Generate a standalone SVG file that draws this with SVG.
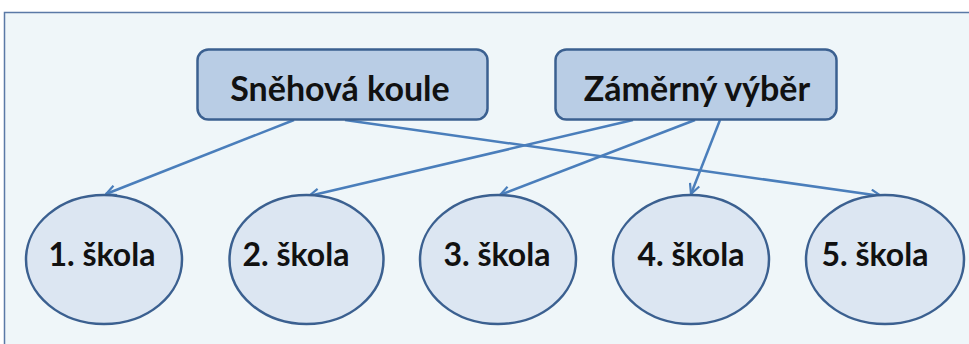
<svg xmlns="http://www.w3.org/2000/svg" width="969" height="344" viewBox="0 0 969 344">
<defs>
<style>
.box{fill:#b9cde5;stroke:#3b6090;stroke-width:2.5}
.ell{fill:#dce6f2;stroke:#3b6090;stroke-width:2.5}
.lbl{font-family:Lato,"Open Sans","Liberation Sans",sans-serif;font-weight:bold;fill:#111;text-anchor:middle}
.big{font-size:34px}
.sm{font-size:32px}
.con line{stroke:#4a7ebb;stroke-width:2.5;marker-end:url(#arr)}
</style>
<marker id="arr" viewBox="0 0 12 12" refX="11" refY="6" markerWidth="12" markerHeight="12" markerUnits="userSpaceOnUse" orient="auto">
<path d="M1,1 L11,6 L1,11" fill="none" stroke="#4a7ebb" stroke-width="2.2"/>
</marker>
</defs>
<rect x="0" y="0" width="969" height="344" fill="#ffffff"/>
<rect x="4.5" y="12.5" width="980" height="340" fill="#eff6f9" stroke="#5a79a6" stroke-width="1.5"/>
<g id="connectors" class="con">
<line x1="294" y1="120" x2="106" y2="194"/>
<line x1="345" y1="120" x2="881" y2="196"/>
<line x1="633" y1="120" x2="309" y2="196"/>
<line x1="695" y1="120" x2="500" y2="195"/>
<line x1="720" y1="120" x2="691" y2="194"/>
</g>
<g id="snehova-koule">
<rect class="box" x="197.5" y="49.5" width="290" height="70" rx="11"/>
<text class="lbl big" x="340" y="101">Sněhová koule</text>
</g>
<g id="zamerny-vyber">
<rect class="box" x="555.5" y="49.5" width="281" height="70" rx="11"/>
<text class="lbl big" x="697" y="101">Záměrný výběr</text>
</g>
<g id="skola1">
<ellipse class="ell" cx="104" cy="259.5" rx="78" ry="64.5"/>
<text class="lbl sm" x="102" y="266">1. škola</text>
</g>
<g id="skola2">
<ellipse class="ell" cx="306.5" cy="259.5" rx="77" ry="64.5"/>
<text class="lbl sm" x="296" y="266">2. škola</text>
</g>
<g id="skola3">
<ellipse class="ell" cx="498" cy="259.5" rx="78" ry="64.5"/>
<text class="lbl sm" x="497" y="266">3. škola</text>
</g>
<g id="skola4">
<ellipse class="ell" cx="691" cy="259.5" rx="78" ry="64.5"/>
<text class="lbl sm" x="691" y="266">4. škola</text>
</g>
<g id="skola5">
<ellipse class="ell" cx="885" cy="259.5" rx="79" ry="64.5"/>
<text class="lbl sm" x="875" y="266">5. škola</text>
</g>
</svg>
